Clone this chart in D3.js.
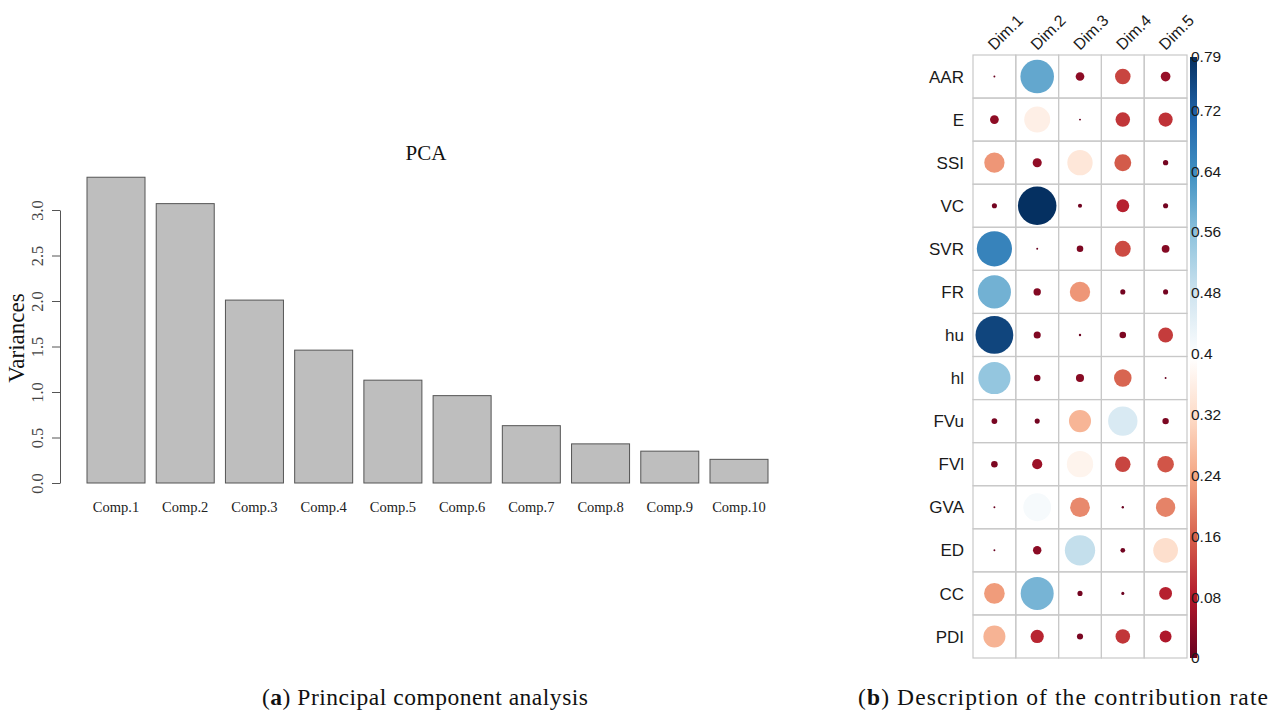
<!DOCTYPE html>
<html>
<head>
<meta charset="utf-8">
<script src="https://cdn.jsdelivr.net/npm/d3@7"></script>
<style>
  body { margin: 0; background: #fff; }
  svg { display: block; }
</style>
</head>
<body>
<svg id="chart" width="1286" height="718"></svg>
<script>
// ---- data ----
const components = ['Comp.1', 'Comp.2', 'Comp.3', 'Comp.4', 'Comp.5', 'Comp.6', 'Comp.7', 'Comp.8', 'Comp.9', 'Comp.10'];
const variances = [3.36, 3.07, 2.01, 1.46, 1.13, 0.96, 0.63, 0.43, 0.35, 0.26];
const varTicks = [0, 0.5, 1.0, 1.5, 2.0, 2.5, 3.0];

const dims = ['Dim.1', 'Dim.2', 'Dim.3', 'Dim.4', 'Dim.5'];
const variables = ['AAR', 'E', 'SSI', 'VC', 'SVR', 'FR', 'hu', 'hl', 'FVu', 'FVl', 'GVA', 'ED', 'CC', 'PDI'];
// contribution per variable, one value per dim
const contrib = [
  [0.002, 0.60, 0.040, 0.128, 0.050],
  [0.041, 0.36, 0.002, 0.112, 0.107],
  [0.220, 0.044, 0.342, 0.152, 0.015],
  [0.014, 0.79, 0.009, 0.088, 0.014],
  [0.660, 0.002, 0.023, 0.135, 0.032],
  [0.585, 0.029, 0.220, 0.014, 0.014],
  [0.760, 0.027, 0.003, 0.023, 0.118],
  [0.550, 0.023, 0.035, 0.164, 0.002],
  [0.018, 0.014, 0.260, 0.460, 0.022],
  [0.023, 0.055, 0.370, 0.128, 0.146],
  [0.002, 0.410, 0.205, 0.003, 0.198],
  [0.002, 0.038, 0.490, 0.012, 0.325],
  [0.227, 0.580, 0.014, 0.005, 0.088],
  [0.258, 0.093, 0.020, 0.112, 0.075]
];
const colorTicks = [0, 0.08, 0.16, 0.24, 0.32, 0.4, 0.48, 0.56, 0.64, 0.72, 0.79];
const colorMax = 0.79;

const svg = d3.select('#chart');
const serif = '"Liberation Serif", "Times New Roman", serif';
const sans = '"Liberation Sans", Arial, sans-serif';

// ---- (a) bar chart ----
const x = d3.scaleBand().domain(components).range([87, 768]).paddingInner(0.162).paddingOuter(0);
const y = d3.scaleLinear().domain([0, 3]).range([483, 210]);

svg.append('g').selectAll('rect')
  .data(variances)
  .join('rect')
  .attr('x', (d, i) => x(components[i]))
  .attr('y', d => y(d))
  .attr('width', x.bandwidth())
  .attr('height', d => y(0) - y(d))
  .attr('fill', '#bebebe')
  .attr('stroke', '#555')
  .attr('stroke-width', 1);

const yAxis = svg.append('g')
  .attr('transform', 'translate(60,0)')
  .call(d3.axisLeft(y).tickValues(varTicks).tickFormat(d3.format('.1f')).tickSize(8).tickSizeOuter(0));
yAxis.selectAll('path, line').attr('stroke', '#555');
yAxis.selectAll('text')
  .attr('transform', 'rotate(-90)')
  .attr('x', 0).attr('y', -17).attr('dy', 0)
  .attr('text-anchor', 'middle')
  .attr('font-family', serif).attr('font-size', 16.5).attr('fill', '#444');

svg.append('g').selectAll('text')
  .data(components)
  .join('text')
  .attr('x', d => x(d) + x.bandwidth() / 2)
  .attr('y', 512)
  .attr('text-anchor', 'middle')
  .attr('font-family', serif).attr('font-size', 14.5).attr('fill', '#222')
  .text(d => d);

svg.append('text')
  .attr('transform', 'translate(24,338) rotate(-90)')
  .attr('text-anchor', 'middle')
  .attr('font-family', serif).attr('font-size', 23).attr('fill', '#111')
  .text('Variances');

svg.append('text')
  .attr('x', 426).attr('y', 160)
  .attr('text-anchor', 'middle')
  .attr('font-family', serif).attr('font-size', 21).attr('fill', '#111')
  .text('PCA');

// ---- (b) corrplot ----
const cx = d3.scaleBand().domain(dims).range([973, 1187]);
const cy = d3.scaleBand().domain(variables).range([55, 658]);
const r = d3.scaleSqrt().domain([0, colorMax]).range([0, cx.bandwidth() * 0.45]);
const rdbu = ['#67001F', '#B2182B', '#D6604D', '#F4A582', '#FDDBC7', '#FFFFFF', '#D1E5F0', '#92C5DE', '#4393C3', '#2166AC', '#053061'];
const color = d3.scaleLinear()
  .domain(rdbu.map((c, i) => i * colorMax / (rdbu.length - 1)))
  .range(rdbu);

const cells = [];
variables.forEach((v, i) => dims.forEach((dm, j) => cells.push({ v, dm, val: contrib[i][j] })));

svg.append('g').selectAll('rect')
  .data(cells)
  .join('rect')
  .attr('x', d => cx(d.dm))
  .attr('y', d => cy(d.v))
  .attr('width', cx.bandwidth())
  .attr('height', cy.bandwidth())
  .attr('fill', 'none')
  .attr('stroke', '#c8c8c8')
  .attr('stroke-width', 1.2);

svg.append('g').selectAll('circle')
  .data(cells)
  .join('circle')
  .attr('cx', d => cx(d.dm) + cx.bandwidth() / 2)
  .attr('cy', d => cy(d.v) + cy.bandwidth() / 2)
  .attr('r', d => Math.max(0.9, r(d.val)))
  .attr('fill', d => color(d.val));

svg.append('g').selectAll('text')
  .data(variables)
  .join('text')
  .attr('x', 964)
  .attr('y', d => cy(d) + cy.bandwidth() / 2)
  .attr('dy', '0.36em')
  .attr('text-anchor', 'end')
  .attr('font-family', sans).attr('font-size', 17).attr('fill', '#1a1a1a')
  .text(d => d);

svg.append('g').selectAll('text')
  .data(dims)
  .join('text')
  .attr('transform', d => `translate(${cx(d) + cx.bandwidth() / 2},51) rotate(-45)`)
  .attr('font-family', sans).attr('font-size', 16).attr('fill', '#1a1a1a')
  .text(d => d);

// colour bar
const cb = d3.scaleLinear().domain([0, colorMax]).range([658, 57]);
const grad = svg.append('defs').append('linearGradient')
  .attr('id', 'cbgrad').attr('x1', 0).attr('y1', 1).attr('x2', 0).attr('y2', 0);
grad.selectAll('stop')
  .data(color.domain())
  .join('stop')
  .attr('offset', d => d / colorMax)
  .attr('stop-color', d => color(d));
svg.append('rect')
  .attr('x', 1190).attr('y', cb(colorMax))
  .attr('width', 7).attr('height', cb(0) - cb(colorMax))
  .attr('fill', 'url(#cbgrad)');

const cbAxis = svg.append('g')
  .attr('transform', 'translate(1189,0)')
  .call(d3.axisRight(cb).tickValues(colorTicks).tickFormat(d => String(d)).tickSize(0).tickPadding(2));
cbAxis.select('.domain').remove();
cbAxis.selectAll('text').attr('font-family', sans).attr('font-size', 15.5).attr('fill', '#1a1a1a');

// ---- captions ----
function caption(x0, width, letter, rest) {
  const t = svg.append('text')
    .attr('x', x0).attr('y', 705)
    .attr('textLength', width).attr('lengthAdjust', 'spacing')
    .attr('font-family', serif).attr('font-size', 23.5).attr('fill', '#111');
  t.append('tspan').text('(');
  t.append('tspan').attr('font-weight', 'bold').text(letter);
  t.append('tspan').text(') ' + rest);
}
caption(262, 326, 'a', 'Principal component analysis');
caption(858, 410, 'b', 'Description of the contribution rate');
</script>
</body>
</html>
